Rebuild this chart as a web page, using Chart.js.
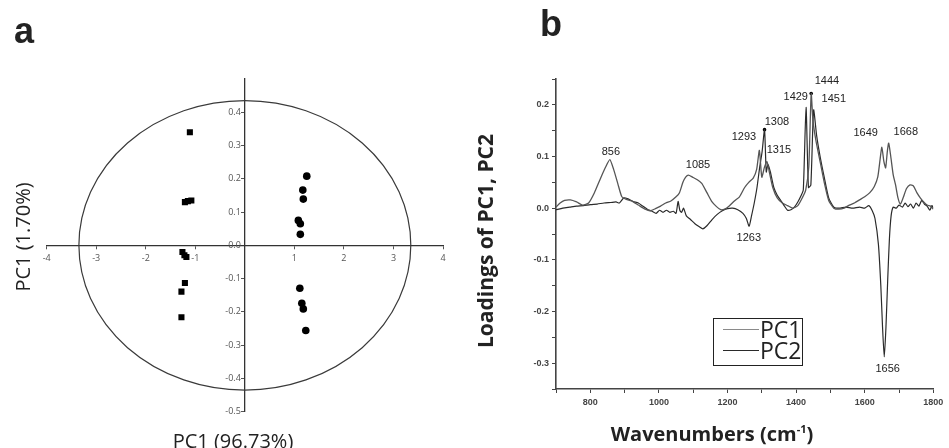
<!DOCTYPE html>
<html>
<head>
<meta charset="utf-8">
<script src="https://cdn.jsdelivr.net/npm/chart.js@4.4.1/dist/chart.umd.min.js"></script>
<style>
body { margin: 0; background: #fff; width: 949px; height: 448px; position: relative; overflow: hidden; font-family: "Open Sans", sans-serif; color: #222; }
.abs { position: absolute; white-space: nowrap; }
.rot { transform: translate(-50%, -50%) rotate(-90deg); }
.ctr { transform: translate(-50%, -50%); }
#cA { position: absolute; left: 0; top: 0; }
#cB { position: absolute; left: 470px; top: 0; }
.letter { font-family: "Liberation Sans", Arial, sans-serif; font-weight: bold; font-size: 36px; line-height: 36px; }
#legend { position: absolute; left: 713px; top: 318px; width: 88px; height: 46px; border: 1.8px solid #222; }
.lrow { display: flex; align-items: center; height: 21px; font-size: 23px; line-height: 21px; margin-left: 9px; }
.lline { width: 36px; height: 0; margin-right: 1px; }
</style>
</head>
<body>
<canvas id="cA" width="470" height="448" style="width:470px;height:448px"></canvas>
<canvas id="cB" width="479" height="448" style="width:479px;height:448px"></canvas>

<div class="abs letter" style="left:14px;top:13px">a</div>
<div class="abs letter" style="left:540px;top:6px">b</div>
<div class="abs rot" style="left:22px;top:237px;font-size:20px">PC1 (1.70%)</div>
<div class="abs ctr" style="left:233px;top:440px;font-size:20px">PC1 (96.73%)</div>
<div class="abs rot" style="left:485px;top:241px;font-size:21px;font-weight:bold">Loadings of PC1, PC2</div>
<div class="abs ctr" style="left:712px;top:433px;font-size:20px;font-weight:bold">Wavenumbers (cm<sup style="font-size:11px">-1</sup>)</div>
<div id="legend">
  <div class="lrow"><div class="lline" style="border-top:1.6px solid #8a8a8a"></div>PC1</div>
  <div class="lrow"><div class="lline" style="border-top:1.4px solid #2a2a2a"></div>PC2</div>
</div>

<script>
// ---- panel a : PCA scores ----
const groupSqX = [-1.11, -1.21, -1.08, -1.15, -1.26, -1.22, -1.18, -1.21, -1.28, -1.28];
const groupSqY = [0.34, 0.13, 0.135, 0.133, -0.02, -0.03, -0.035, -0.113, -0.139, -0.216];
const groupCiX = [1.25, 1.17, 1.18, 1.08, 1.12, 1.12, 1.11, 1.15, 1.18, 1.23];
const groupCiY = [0.208, 0.166, 0.139, 0.075, 0.065, 0.033, -0.129, -0.174, -0.191, -0.256];
const scoreXTicks = [-4, -3, -2, -1, 1, 2, 3, 4];
const scoreYTicks = [-0.5, -0.4, -0.3, -0.2, -0.1, 0, 0.1, 0.2, 0.3, 0.4];
const ellipseRx = 3.35, ellipseRy = 0.435;

// ---- panel b : loadings ----
const pc1Wave = [700, 712, 725, 742, 760, 778, 795, 812, 830, 845, 857, 868, 880, 892, 905, 920, 940, 960, 975, 990,
  1005, 1020, 1035, 1050, 1060, 1070, 1078, 1086, 1098, 1112, 1125, 1140, 1155, 1168, 1180, 1192, 1205, 1220, 1235, 1250,
  1262, 1275, 1285, 1293, 1300, 1308, 1315, 1322, 1332, 1345, 1360, 1375, 1390, 1405, 1418, 1428, 1437, 1444, 1449, 1458,
  1470, 1482, 1495, 1510, 1525, 1540, 1555, 1570, 1585, 1600, 1615, 1628, 1638, 1645, 1650, 1656, 1661, 1666, 1670, 1676,
  1683, 1690, 1697, 1704, 1712, 1722, 1732, 1742, 1752, 1762, 1772, 1782, 1792, 1800];
const pc1Load = [0.002, 0.01, 0.015, 0.016, 0.012, 0.006, 0.01, 0.03, 0.058, 0.08, 0.094, 0.075, 0.048, 0.022, 0.017, 0.014, 0.006, -0.002, -0.005, -0.001,
  0.004, 0.01, 0.014, 0.022, 0.03, 0.05, 0.06, 0.064, 0.06, 0.055, 0.048, 0.03, 0.012, 0.003, -0.003, -0.002, 0.004, 0.014, 0.022, 0.04,
  0.05, 0.058, 0.075, 0.112, 0.06, 0.08, 0.09, 0.07, 0.04, 0.02, 0.01, 0.005, 0.0, 0.005, 0.02, 0.035, 0.08, 0.222, 0.17, 0.13,
  0.09, 0.05, 0.015, 0.0, -0.002, 0.0, 0.006, 0.01, 0.016, 0.022, 0.03, 0.042, 0.06, 0.095, 0.118, 0.09, 0.078, 0.11, 0.126, 0.1,
  0.065, 0.045, 0.02, 0.008, 0.02, 0.038, 0.045, 0.043, 0.03, 0.02, 0.012, 0.006, 0.004, -0.002];
const pc2Wave = [700, 720, 740, 760, 780, 800, 820, 840, 860, 875, 885, 898, 910, 925, 940, 955, 968, 980, 992, 1002,
  1012, 1022, 1032, 1042, 1050, 1056, 1061, 1066, 1072, 1080, 1092, 1105, 1118, 1128, 1140, 1155, 1170, 1185, 1200, 1215,
  1230, 1245, 1255, 1263, 1270, 1278, 1286, 1294, 1301, 1308, 1313, 1318, 1325, 1335, 1345, 1355, 1365, 1375, 1385, 1395,
  1405, 1415, 1421, 1429, 1436, 1443, 1451, 1460, 1470, 1482, 1495, 1510, 1525, 1545, 1565, 1585, 1600, 1612, 1622, 1630,
  1640, 1647, 1652, 1657, 1662, 1667, 1672, 1677, 1683, 1692, 1700, 1710, 1718, 1726, 1734, 1742, 1750, 1758, 1766, 1774,
  1782, 1790, 1796, 1800];
const pc2Load = [-0.003, 0.0, 0.002, 0.004, 0.005, 0.007, 0.008, 0.01, 0.011, 0.012, 0.01, 0.02, 0.018, 0.013, 0.01, 0.003, -0.003, -0.006, -0.01, -0.004,
  -0.008, -0.004, -0.008, -0.006, -0.01, 0.013, -0.004, -0.008, 0.0, -0.015, -0.022, -0.03, -0.036, -0.04, -0.034, -0.022, -0.012, -0.005, -0.001, 0.0,
  -0.003, -0.01, -0.02, -0.035, -0.015, 0.01, 0.04, 0.08, 0.11, 0.152, 0.07, 0.085, 0.07, 0.04, 0.025, 0.015, 0.005, -0.004, -0.003, 0.002,
  0.012, 0.025, 0.035, 0.195, 0.04, 0.045, 0.19, 0.14, 0.1, 0.06, 0.02, 0.002, 0.0, 0.002, 0.0, 0.002, 0.0, 0.005, -0.005, -0.02,
  -0.07, -0.15, -0.23, -0.288, -0.23, -0.14, -0.06, -0.015, 0.002, 0.0, 0.006, 0.002, 0.01, 0.003, 0.008, 0.0, 0.01, 0.004, 0.015, 0.008,
  0.004, -0.004, 0.005, 0.0];
const markWave = [1308, 1444];
const markLoad = [0.152, 0.222];
const peakText = ['856', '1085', '1293', '1308', '1315', '1263', '1429', '1444', '1451', '1649', '1668', '1656'];
const peakX = [860, 1114, 1248, 1344, 1350, 1262, 1399, 1490, 1510, 1603, 1720, 1667];
const peakY = [0.109, 0.084, 0.138, 0.167, 0.113, -0.057, 0.215, 0.246, 0.211, 0.146, 0.148, -0.311];
const loadYTicks = [-0.35, -0.3, -0.25, -0.2, -0.15, -0.1, -0.05, 0, 0.05, 0.1, 0.15, 0.2, 0.25];
const loadXTicks = [700, 800, 900, 1000, 1100, 1200, 1300, 1400, 1500, 1600, 1700, 1800];

const toPts = (xs, ys) => xs.map((x, i) => ({ x: x, y: ys[i] }));

const ellipsePlugin = {
  id: 'ellipse',
  beforeDatasetsDraw(chart) {
    const { ctx, scales: { x, y } } = chart;
    const cx = x.getPixelForValue(0), cy = y.getPixelForValue(0);
    const rx = x.getPixelForValue(ellipseRx) - cx;
    const ry = cy - y.getPixelForValue(ellipseRy);
    ctx.save();
    ctx.strokeStyle = '#3a3a3a';
    ctx.lineWidth = 1.2;
    ctx.beginPath();
    ctx.ellipse(cx, cy, rx, ry, 0, 0, Math.PI * 2);
    ctx.stroke();
    ctx.restore();
  }
};

// axes sit in the middle of the chart area (x = 0, y = 0)
new Chart(document.getElementById('cA'), {
  type: 'scatter',
  data: {
    datasets: [
      { data: toPts(groupSqX, groupSqY), pointStyle: 'rect', pointRadius: 4.3, backgroundColor: '#000', borderColor: '#000', borderWidth: 0 },
      { data: toPts(groupCiX, groupCiY), pointStyle: 'circle', pointRadius: 3.8, backgroundColor: '#000', borderColor: '#000', borderWidth: 0 }
    ]
  },
  options: {
    responsive: false,
    animation: false,
    layout: { padding: { left: 46.7, right: 27, top: 79, bottom: 36.3 } },
    plugins: { legend: { display: false }, tooltip: { enabled: false } },
    scales: {
      x: {
        type: 'linear', min: -4, max: 4, position: 'center',
        afterBuildTicks: s => { s.ticks = scoreXTicks.map(v => ({ value: v })); },
        grid: { drawOnChartArea: false, tickLength: 3, color: '#555' },
        border: { color: '#333', width: 1.3 },
        ticks: { font: { family: 'Open Sans', size: 9 }, color: '#555', padding: 5, maxRotation: 0 }
      },
      y: {
        type: 'linear', min: -0.5, max: 0.5, position: 'center',
        afterBuildTicks: s => { s.ticks = scoreYTicks.map(v => ({ value: v })); },
        grid: { drawOnChartArea: false, tickLength: 3, color: '#555' },
        border: { color: '#333', width: 1.3 },
        ticks: { font: { family: 'Open Sans', size: 9 }, color: '#555', padding: 1, callback: v => v.toFixed(1) }
      }
    }
  },
  plugins: [ellipsePlugin]
});

const peakPlugin = {
  id: 'peaks',
  afterDatasetsDraw(chart) {
    const { ctx, scales: { x, y } } = chart;
    ctx.save();
    ctx.font = '11px "Liberation Sans", Arial, sans-serif';
    ctx.fillStyle = '#222';
    ctx.textAlign = 'center';
    ctx.textBaseline = 'middle';
    peakText.forEach((t, i) => ctx.fillText(t, x.getPixelForValue(peakX[i]), y.getPixelForValue(peakY[i])));
    ctx.restore();
  }
};

new Chart(document.getElementById('cB'), {
  type: 'line',
  data: {
    datasets: [
      { label: 'PC1', data: toPts(pc1Wave, pc1Load), borderColor: '#555', borderWidth: 1.3, pointRadius: 0, tension: 0.2, fill: false },
      { label: 'PC2', data: toPts(pc2Wave, pc2Load), borderColor: '#2a2a2a', borderWidth: 1.2, pointRadius: 0, tension: 0.2, fill: false },
      { type: 'scatter', data: toPts(markWave, markLoad), pointRadius: 1.8, backgroundColor: '#000', borderWidth: 0 }
    ]
  },
  options: {
    responsive: false,
    animation: false,
    layout: { padding: { left: 0, right: 15.7, top: 79, bottom: 29 } },
    plugins: { legend: { display: false }, tooltip: { enabled: false } },
    scales: {
      x: {
        type: 'linear', min: 700, max: 1800,
        afterBuildTicks: s => { s.ticks = loadXTicks.map(v => ({ value: v })); },
        afterFit: s => { s.height = 30; },
        grid: { drawOnChartArea: false, tickLength: 4, color: '#444' },
        border: { color: '#444', width: 1.6 },
        ticks: { font: { family: 'Liberation Sans', size: 9, weight: 'bold' }, color: '#444', padding: 4, maxRotation: 0,
          callback: v => (v % 200 === 0 && v >= 800) ? String(v) : '' }
      },
      y: {
        type: 'linear', min: -0.35, max: 0.25,
        afterBuildTicks: s => { s.ticks = loadYTicks.map(v => ({ value: v })); },
        afterFit: s => { s.width = 86; },
        grid: { drawOnChartArea: false, tickLength: 4, color: '#444' },
        border: { color: '#444', width: 1.6 },
        ticks: { font: { family: 'Liberation Sans', size: 9, weight: 'bold' }, color: '#444', padding: 3,
          callback: v => (Math.abs(v * 10 - Math.round(v * 10)) < 1e-6) ? v.toFixed(1) : '' }
      }
    }
  },
  plugins: [peakPlugin]
});
</script>
</body>
</html>
